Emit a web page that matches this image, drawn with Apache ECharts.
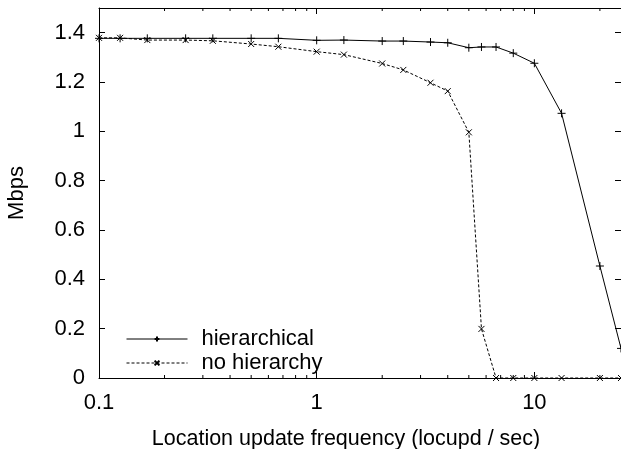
<!DOCTYPE html>
<html>
<head>
<meta charset="utf-8">
<script src="https://cdn.jsdelivr.net/npm/echarts@6/dist/echarts.min.js"></script>
<style>
  html, body { margin: 0; padding: 0; background: #fff; }
  #chart { width: 621px; height: 449px; }
</style>
</head>
<body>
<div id="chart"></div>
<script>
// location update frequency (locupd / sec)
var freq = [0.1, 0.125, 0.1667, 0.25, 0.3333, 0.5, 0.6667, 1, 1.3333, 2, 2.5,
            3.3333, 4, 5, 5.7143, 6.6667, 8, 10, 13.333, 20, 25];
var hierarchical = [1.377, 1.377, 1.377, 1.377, 1.377, 1.377, 1.377, 1.369, 1.370, 1.366, 1.366,
                    1.362, 1.359, 1.339, 1.342, 1.342, 1.317, 1.276, 1.073, 0.454, 0.12];
var noHierarchy = [1.379, 1.379, 1.370, 1.370, 1.367, 1.354, 1.343, 1.323, 1.311, 1.275, 1.249,
                   1.197, 1.163, 0.996, 0.199, 0, 0, 0, 0, 0, 0];
var xTickLabels = [0.1, 1, 10];
var xMinorTicks = [0.2, 0.3, 0.4, 0.5, 0.6, 0.7, 0.8, 0.9, 2, 3, 4, 5, 6, 7, 8, 9, 20];

function pairs(ys) {
  return freq.map(function (f, i) { return [f, ys[i]]; });
}

var font = 'Liberation Sans, Arial, sans-serif';
var plusSymbol = 'path://M0,5L10,5M5,0L5,10';
var crossSymbol = 'path://M0,0L10,10M10,0L0,10';

var chart = echarts.init(document.getElementById('chart'), null, { renderer: 'canvas' });

var option = {
  animation: false,
  grid: { left: 99, right: 0, top: 8, bottom: 71, containLabel: false, outerBoundsMode: 'none' },
  legend: {
    orient: 'vertical',
    left: 121,
    top: 323,
    itemWidth: 61,
    itemHeight: 6,
    itemGap: 2,
    lineStyle: { width: 1 },
    textStyle: { fontFamily: font, fontSize: 22, color: '#000', lineHeight: 22, padding: [0, 0, 0, 9] },
    data: ['hierarchical', 'no hierarchy']
  },
  xAxis: [{
    type: 'log',
    logBase: 10,
    min: 0.1,
    max: 25,
    position: 'bottom',
    name: 'Location update frequency (locupd / sec)',
    nameLocation: 'middle',
    nameGap: 50,
    nameTextStyle: { fontFamily: font, fontSize: 21.5, color: '#000', padding: [0, 28, 0, 0] },
    axisLine: { show: true, onZero: false, lineStyle: { color: '#000', width: 1 } },
    axisTick: { show: true, inside: true, length: 6, lineStyle: { color: '#000' } },
    axisLabel: {
      fontFamily: font, fontSize: 22, color: '#000', margin: 14,
      showMaxLabel: false,
      formatter: function (v) {
        return xTickLabels.indexOf(+v.toPrecision(6)) >= 0 ? String(+v.toPrecision(6)) : '';
      }
    },
    splitLine: { show: false }
  }, {
    type: 'log',
    logBase: 10,
    min: 0.1,
    max: 25,
    position: 'top',
    axisLine: { show: true, onZero: false, lineStyle: { color: '#000', width: 1 } },
    axisTick: { show: true, inside: true, length: 6, lineStyle: { color: '#000' } },
    axisLabel: { show: false },
    splitLine: { show: false }
  }],
  yAxis: [{
    type: 'value',
    min: 0,
    max: 1.5,
    interval: 0.2,
    name: 'Mbps',
    nameLocation: 'middle',
    nameGap: 71,
    nameTextStyle: { fontFamily: font, fontSize: 22, color: '#000' },
    axisLine: { show: true, onZero: false, lineStyle: { color: '#000', width: 1 } },
    axisTick: { show: true, inside: true, length: 6, lineStyle: { color: '#000' } },
    axisLabel: { fontFamily: font, fontSize: 22, color: '#000', margin: 14, showMaxLabel: false },
    splitLine: { show: false }
  }, {
    type: 'value',
    min: 0,
    max: 1.5,
    interval: 0.2,
    position: 'right',
    axisLine: { show: false, onZero: false },
    axisTick: { show: true, inside: true, length: 6, lineStyle: { color: '#000' } },
    axisLabel: { show: false },
    splitLine: { show: false }
  }],
  series: [{
    name: 'hierarchical',
    type: 'line',
    data: pairs(hierarchical),
    symbol: plusSymbol,
    symbolSize: 8,
    showAllSymbol: true,
    itemStyle: { color: '#000', borderColor: '#000', borderWidth: 1 },
    lineStyle: { color: '#000', width: 1, type: 'solid' },
    clip: true
  }, {
    name: 'no hierarchy',
    type: 'line',
    data: pairs(noHierarchy),
    symbol: crossSymbol,
    symbolSize: 6,
    showAllSymbol: true,
    itemStyle: { color: '#000', borderColor: '#000', borderWidth: 1 },
    lineStyle: { color: '#000', width: 1, type: [3, 2] },
    clip: true
  }, {
    // minor log ticks on bottom and top edges
    type: 'custom',
    silent: true,
    data: xMinorTicks.map(function (v) { return [v]; }),
    renderItem: function (params, api) {
      var b = api.coord([api.value(0), 0]);
      var t = api.coord([api.value(0), 1.5]);
      var style = { stroke: '#000', lineWidth: 1 };
      return {
        type: 'group',
        children: [
          { type: 'line', shape: { x1: b[0], y1: b[1], x2: b[0], y2: b[1] - 3 }, style: style },
          { type: 'line', shape: { x1: t[0], y1: t[1], x2: t[0], y2: t[1] + 3 }, style: style }
        ]
      };
    },
    encode: { x: 0 },
    z: 1
  }]
};

chart.setOption(option);
window.addEventListener('resize', chart.resize);
</script>
</body>
</html>
